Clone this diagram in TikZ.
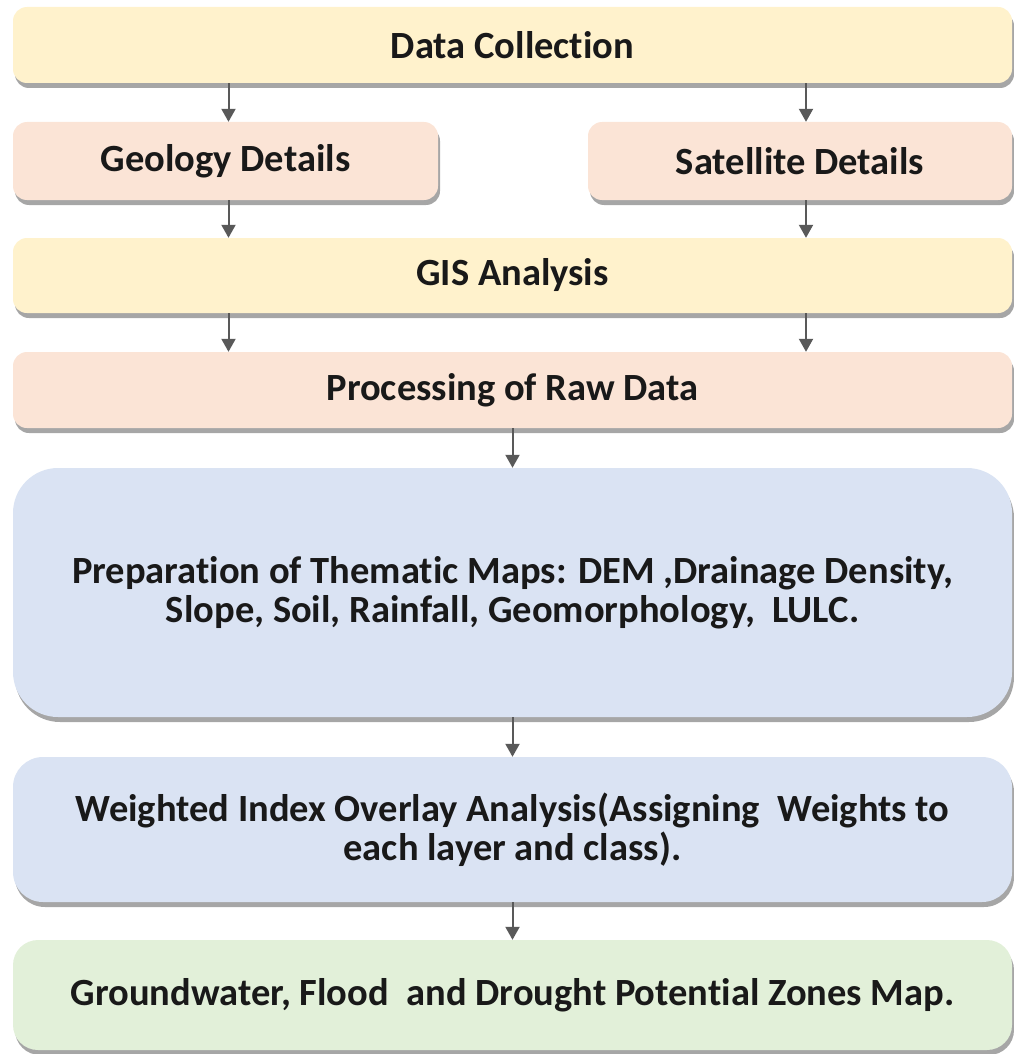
\documentclass[tikz,border=0pt]{standalone}
\usepackage{fontspec}
\setmainfont[Ligatures=NoCommon]{Carlito}
\usetikzlibrary{shadows,arrows.meta}
\definecolor{cyellow}{HTML}{FFF2CC}
\definecolor{cpeach}{HTML}{FBE4D6}
\definecolor{cblue}{HTML}{DAE3F3}
\definecolor{cgreen}{HTML}{E2F0D9}
\definecolor{carrow}{HTML}{595959}
\tikzset{
  box/.style={rectangle, draw=none, align=center, inner sep=0pt,
    font=\fontsize{38.5}{39}\selectfont\bfseries, text=black!90,
    drop shadow={shadow xshift=2pt, shadow yshift=-5pt, fill=black, opacity=0.35}},
  flow/.style={draw=carrow, line width=2pt, -{Triangle[width=14pt,length=13pt]}}
}
\begin{document}
\begin{tikzpicture}[x=1pt,y=-1pt]
\useasboundingbox (0,0) rectangle (1013,1054);
\node[box, fill=cyellow, rounded corners=14pt, minimum width=999pt, minimum height=76pt] (dc) at (512.5,45) {Data Collection};
\node[box, fill=cpeach, rounded corners=14pt, minimum width=425pt, minimum height=78pt] (geo) at (225.5,161) {Geology Details};
\node[box, fill=cpeach, rounded corners=14pt, minimum width=424pt, minimum height=78pt] (sat) at (800,161) {Satellite Details};
\node[box, fill=cyellow, rounded corners=14pt, minimum width=999pt, minimum height=75pt] (gis) at (512.5,275.5) {GIS Analysis};
\node[box, fill=cpeach, rounded corners=14pt, minimum width=999pt, minimum height=76pt] (raw) at (512.5,390) {Processing of Raw Data};
\node[box, fill=cblue, rounded corners=45pt, minimum width=999pt, minimum height=249pt] (prep) at (512.5,592.5) {Preparation of Thematic Maps: DEM ,Drainage Density,\\Slope, Soil, Rainfall, Geomorphology,\ \ LULC.};
\node[box, fill=cblue, rounded corners=30pt, minimum width=999pt, minimum height=145pt] (wio) at (512.5,829.5) {Weighted Index Overlay Analysis(Assigning\ \ Weights to\\each layer and class).};
\node[box, fill=cgreen, rounded corners=25pt, minimum width=999pt, minimum height=110pt] (gw) at (512.5,995) {Groundwater, Flood\ \ and Drought Potential Zones Map.};
\draw[flow] ([xshift=3pt]geo.north |- dc.south) -- ([xshift=3pt]geo.north);
\draw[flow] ([xshift=6pt]sat.north |- dc.south) -- ([xshift=6pt]sat.north);
\draw[flow] ([xshift=3pt]geo.south) -- ([xshift=3pt]geo.south |- gis.north);
\draw[flow] ([xshift=6pt]sat.south) -- ([xshift=6pt]sat.south |- gis.north);
\draw[flow] ([xshift=3pt]geo.south |- gis.south) -- ([xshift=3pt]geo.south |- raw.north);
\draw[flow] ([xshift=6pt]sat.south |- gis.south) -- ([xshift=6pt]sat.south |- raw.north);
\draw[flow] (raw.south) -- (prep.north);
\draw[flow] (prep.south) -- (wio.north);
\draw[flow] (wio.south) -- (gw.north);
\end{tikzpicture}
\end{document}
